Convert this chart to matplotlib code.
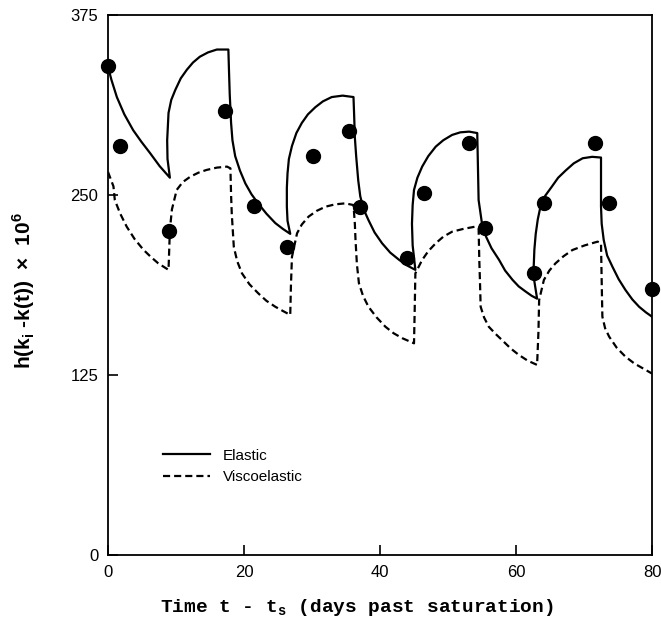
import numpy as np
import matplotlib
matplotlib.use('Agg')
import matplotlib.pyplot as plt

# valores (curva elastica)
elastico_t = [0, 0.5, 1.3, 2.4, 3.7, 4.9, 6.2, 7.6, 9.1,
              8.75, 8.7, 8.9, 9.3, 9.9, 10.7, 11.6, 12.5, 13.5, 14.7, 16.0, 17.7,
              17.8, 17.9, 18.1, 18.3, 18.7, 19.4, 20.2, 21.1, 22.1, 23.3, 24.6, 25.7, 26.8,
              26.4, 26.3, 26.3, 26.4, 26.6, 27.05, 27.7, 28.5, 29.4, 30.5, 31.6, 32.9, 34.5, 36.1,
              36.2, 36.3, 36.5, 36.8, 37.1, 37.6, 38.3, 39.2, 40.3, 41.5, 42.8, 44.0, 45.2,
              44.8, 44.7, 44.8, 45.0, 45.5, 46.2, 47.1, 48.2, 49.3, 50.6, 51.8, 53.1, 54.3,
              54.4, 54.5, 55.0, 55.6, 56.4, 57.5, 58.4, 59.5, 60.4, 61.4, 62.3, 63.1,
              62.7, 62.6, 62.7, 62.9, 63.2, 63.6, 64.3, 65.3, 66.2, 67.3, 68.5, 69.8, 71.2, 72.5,
              72.5, 72.5, 72.6, 72.9, 73.4, 74.2, 75.1, 76.1, 77.1, 78.1, 79.1, 80]
elastico_h = [339, 330, 318, 306, 295, 287, 279, 270, 262,
              275, 288, 307, 316, 323, 331, 337, 342, 346, 349, 351, 351,
              335, 320, 300, 288, 277, 267, 258, 250.5, 244, 237, 230.5, 226.5, 223,
              232, 242, 255, 265, 275, 284, 293, 300, 306, 311, 315, 318, 319, 318,
              305, 290, 276.6, 260, 249, 240, 232.6, 224, 216.5, 210, 205, 201, 198,
              215, 230, 243, 253.5, 262, 269.7, 277, 283.6, 288, 291.7, 293.5, 294, 293,
              270, 246.5, 230, 221, 213, 205, 197.5, 191, 186.5, 183, 180, 178,
              190, 200, 212, 223, 233, 242, 249.5, 256, 262, 267, 272, 275.5, 276.5, 276,
              260, 242, 230, 218.7, 208, 200, 191.5, 184, 177.5, 172.4, 168.5, 165.5]

# curva viscoelastica
visco_t = [0, 0.4, 0.8, 1.0, 1.8, 2.75, 3.9, 5.2, 6.3, 7.4, 8.9,
           9.0, 9.1, 9.4, 10.1, 11.0, 12.1, 13.3, 14.5, 16.0, 17.5, 18.0,
           18.1, 18.2, 18.5, 19.0, 19.7, 20.8, 22.1, 23.3, 24.6, 25.7, 26.8,
           26.9, 27.05, 27.8, 28.5, 29.5, 30.7, 32.0, 33.4, 34.9, 36.1,
           36.3, 36.4, 36.6, 36.9, 37.5, 38.3, 39.5, 40.8, 42.0, 43.3, 45.0,
           45.1, 45.2, 46.2, 47.1, 48.2, 49.3, 50.6, 52.3, 54.0, 54.5,
           54.6, 54.7, 54.8, 55.3, 56.0, 57.0, 58.0, 59.2, 60.4, 61.7, 63.1,
           63.3, 63.4, 64.1, 64.9, 65.8, 67.0, 68.3, 70.1, 72.0, 72.5,
           72.6, 72.7, 73.1, 73.7, 74.8, 76.1, 77.4, 78.7, 80]
visco_h = [266, 261, 256, 246.5, 237, 228, 219.5, 212, 207, 202.5, 198,
           212, 226, 240, 253.5, 259, 262.7, 265.5, 267.4, 269, 269.7, 268.5,
           250, 237, 214, 204, 195.6, 188, 181.7, 176.5, 172.4, 169.5, 166.7,
           187, 207, 223.4, 229.5, 235, 239, 241.9, 243.5, 244.2, 243,
           230, 218.7, 202, 188.7, 180, 172.4, 165, 158.5, 154, 150.5, 147,
           170, 195.6, 204.9, 211, 216.5, 221, 224.5, 226.5, 228, 227,
           205, 190, 172.4, 165, 158.5, 153.5, 149, 143.5, 139, 135, 132,
           155, 177, 191, 197.5, 202.5, 207.5, 211.8, 215, 217.6, 216.5,
           190, 165.5, 157.5, 151.6, 144, 137.7, 133, 129.5, 126]

# pontos medidos
obs_t = [0, 1.8, 8.9, 17.2, 21.4, 26.3, 30.1, 35.4, 37.1,
         44.0, 46.4, 53.1, 55.4, 62.6, 64.1, 71.6, 73.7, 80]
obs_h = [339.6, 284, 225, 308.5, 242.4, 214, 277, 294.7, 242,
         206, 251.6, 286, 227, 195.6, 244.2, 286, 244.2, 185]

x_ticks = [0, 20, 40, 60, 80]
y_ticks = [0, 125, 250, 375]

plt.rcParams['font.family'] = ['Liberation Sans', 'DejaVu Sans']

fig = plt.figure(figsize=(6.61, 6.4), dpi=100)
ax = fig.add_axes([0.1634, 0.1328, 0.8230, 0.8438])

ax.plot(elastico_t, elastico_h, color='black', lw=1.6, label='Elastic',
        solid_joinstyle='round')
ax.plot(visco_t, visco_h, color='black', lw=1.6, linestyle=(0, (3.2, 1.8)),
        label='Viscoelastic')
ax.plot(obs_t, obs_h, 'o', color='black', markersize=10, clip_on=False, zorder=5)

ax.set_xlim(0, 80)
ax.set_ylim(0, 375)
ax.set_xticks(x_ticks)
ax.set_yticks(y_ticks)
ax.tick_params(direction='in', length=7, width=1.2, labelsize=12, pad=7)
for s in ax.spines.values():
    s.set_linewidth(1.3)

ax.set_ylabel(r'h(k$_{\mathregular{i}}$ -k(t))  ×  10$^{\mathregular{6}}$',
              fontsize=15, fontweight='bold')
ax.yaxis.set_label_coords(-0.13, 0.49)
ax.set_xlabel(r'Time t - t$_{\mathregular{s}}$ (days past saturation)',
              family='Liberation Mono', fontsize=14, fontweight='bold')
ax.xaxis.set_label_coords(0.458, -0.078)

ax.legend(loc='center left', bbox_to_anchor=(0.101, 0.164), frameon=False,
          fontsize=11, handlelength=3.1, handletextpad=0.8, labelspacing=0.5,
          borderpad=0, borderaxespad=0)

plt.savefig('out.png', dpi=100)
